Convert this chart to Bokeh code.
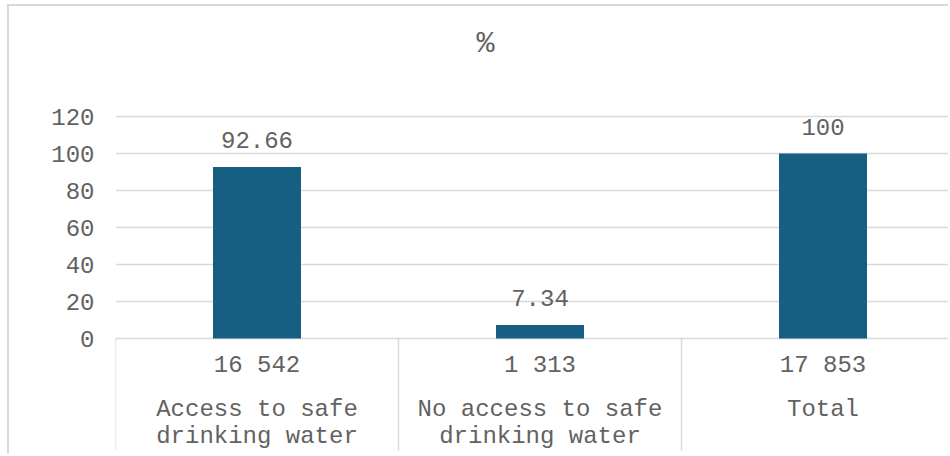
from bokeh.plotting import figure
from bokeh.models import ColumnDataSource, FixedTicker, Range1d, Label
from bokeh.core.properties import value
from bokeh.embed import file_html
from bokeh.resources import INLINE

# ---- data ----
categories = ["Access to safe\ndrinking water", "No access to safe\ndrinking water", "Total"]
counts = ["16 542", "1 313", "17 853"]
percent = [92.66, 7.34, 100]
percent_labels = ["92.66", "7.34", "100"]
y_ticks = [0, 20, 40, 60, 80, 100, 120]

FONT = "Liberation Mono"
TXT = "#626262"
GRID = "#D9D9D9"
BAR = "#175F82"

xpos = [i + 0.5 for i in range(len(categories))]
src = ColumnDataSource(dict(x=xpos, top=percent, lab=percent_labels,
                            cnt=counts, cat=categories))

PX = 1.85  # pixels per y unit
p = figure(width=941, height=450, output_backend="svg", toolbar_location=None,
           x_range=Range1d(0, 835 / 283), y_range=Range1d(-118 / PX, 332 / PX),
           x_axis_location=None, min_border_left=106, min_border_right=0,
           min_border_top=0, min_border_bottom=0)
p.styles = {"margin-left": "7px", "margin-top": "4px",
            "border-left": "2px solid #D9D9D9", "border-top": "2px solid #D9D9D9"}
p.outline_line_color = None
p.xgrid.visible = False

p.yaxis.ticker = FixedTicker(ticks=y_ticks)
p.yaxis.axis_line_color = None
p.yaxis.major_tick_line_color = None
p.yaxis.minor_tick_line_color = None
p.yaxis.major_tick_out = 0
p.yaxis.major_tick_in = 0
p.yaxis.major_label_standoff = 21
p.yaxis.major_label_text_font = FONT
p.yaxis.major_label_text_font_size = "24px"
p.yaxis.major_label_text_color = TXT
p.ygrid.grid_line_color = GRID
p.ygrid.grid_line_width = 1.5

p.vbar(x="x", top="top", width=88 / 283, bottom=0, source=src,
       fill_color=BAR, line_color=None)

p.text(x="x", y="top", text="lab", source=src, y_offset=-27,
       text_align="center", text_baseline="alphabetic",
       text_font=value(FONT), text_font_size="24px", text_color=TXT)

# category separators
sep_x = [i for i in range(len(categories) + 1)]
p.segment(x0=sep_x, y0=[0] * len(sep_x), x1=sep_x, y1=[-112 / PX] * len(sep_x),
          line_color=GRID, line_width=1.5)

# category axis texts
p.text(x="x", y=-27 / PX, text="cnt", source=src, text_align="center",
       text_baseline="middle", text_font=value(FONT), text_font_size="24px",
       text_color=TXT)
p.text(x="x", y=-57 / PX, text="cat", source=src, text_align="center",
       text_baseline="top", text_line_height=1.02, text_font=value(FONT),
       text_font_size="24px", text_color=TXT)

p.add_layout(Label(x=370 / 283, y=(332 - 37.5) / PX, text="%",
                   text_align="center", text_baseline="middle",
                   text_font=FONT, text_font_size="30px", text_color=TXT))

open("out.html", "w").write(file_html(p, INLINE))
